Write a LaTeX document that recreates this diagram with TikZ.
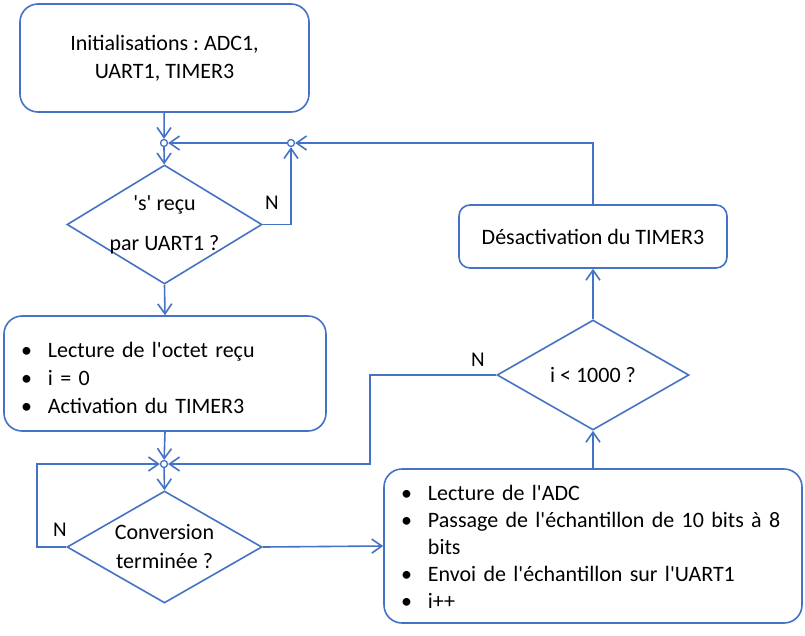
\documentclass[tikz,border=0pt]{standalone}
\usepackage{fontspec}
\setmainfont{Carlito}[Ligatures=TeXOff]
\usetikzlibrary{shapes.geometric,arrows.meta,positioning}
\definecolor{lineblue}{HTML}{4472C4}
\frenchspacing

\tikzset{
  box/.style={draw=lineblue, line width=1.6pt, fill=white, rounded corners=18pt,
    font=\fontsize{22}{28}\selectfont},
  listbox/.style={box, align=left, inner xsep=17pt, inner ysep=0pt},
  test/.style={draw=lineblue, line width=1.6pt, fill=white, diamond, inner sep=0pt,
    font=\fontsize{22}{28}\selectfont},
  junction/.style={circle, draw=lineblue, line width=1.3pt, fill=white, inner sep=0pt, minimum size=7pt},
  link/.style={draw=lineblue, line width=1.6pt},
  arr/.style={link, -{Straight Barb[length=10pt, width=14pt, line width=1.6pt]}},
  nolabel/.style={font=\fontsize{21}{24}\selectfont, inner sep=0pt}
}

\begin{document}
\begin{tikzpicture}[x=1pt, y=-1pt]
\useasboundingbox (0,0) rectangle (805,635);

% Boxes
\node[box, minimum width=289pt, minimum height=108pt, align=center] (init) at (164.5,58)
  {Initialisations : ADC1,\\UART1, TIMER3};
\node[listbox, text width=288pt, minimum height=115pt] (lect) at (165,373.5)
  {\vspace*{-12pt}\noindent\begin{tabular}{@{}l@{\hspace{16pt}}l@{}}
    \textbullet & Lecture de l'octet reçu\\
    \textbullet & i = 0\\
    \textbullet & Activation du TIMER3
  \end{tabular}};
\node[listbox, text width=384pt, minimum height=154pt,
  font=\fontsize{22}{27}\selectfont] (acq) at (593,546)
  {\vspace*{-6pt}\noindent\begin{tabular}{@{}l@{\hspace{16pt}}l@{}}
    \textbullet & Lecture de l'ADC\\
    \textbullet & Passage de l'échantillon de 10 bits à 8\\
                & bits\\
    \textbullet & Envoi de l'échantillon sur l'UART1\\
    \textbullet & i++
  \end{tabular}};
\node[box, rounded corners=11pt, minimum width=268pt, minimum height=63pt] (desac) at (593,236.5)
  {Désactivation du TIMER3};

% Tests
\node[test, minimum width=195pt, minimum height=119pt,
  label={[align=center, font=\fontsize{22}{40}\selectfont]center:'s' reçu\\par UART1 ?}] (q1) at (164.5,224.5) {};
\node[test, minimum width=195pt, minimum height=112pt,
  label={[align=center, font=\fontsize{22}{29}\selectfont]center:Conversion\\terminée ?}] (q2) at (164.5,547) {};
\node[test, minimum width=192pt, minimum height=110pt,
  label={[font=\fontsize{22}{28}\selectfont]center:i < 1000 ?}] (q3) at (593,375) {};

% Junction points
\foreach \n/\x/\y in {j1/164/143, j2/164/464, j3/291/143} {
    \node[junction] (\n) at (\x,\y) {};
}

% N labels
\node[nolabel] (n1) at (272,203) {N};
\node[nolabel] (n2) at (60,530) {N};
\node[nolabel] (n3) at (478,360) {N};

% Connectors
\draw[arr] (init) -- (j1);
\draw[arr] (j1) -- (q1);
\draw[arr] (q1.east) -| (j3);
\draw[arr] (desac.north) |- (j3);
\draw[arr] (j3) -- (j1);
\draw[arr] (q1.south) -- (lect.north);
\draw[arr] (lect.south) -- (j2);
\draw[arr] (j2) -- (q2.north);
\draw[arr] (q2.west) -- ++(-29,0) |- (j2);
\draw[arr] (q3.west) -- ++(-126,0) |- (j2);
\draw[arr] (q2.east) -- (acq.west);
\draw[arr] (acq.north) -- (q3.south);
\draw[arr] (q3.north) -- (desac.south);

\end{tikzpicture}
\end{document}
